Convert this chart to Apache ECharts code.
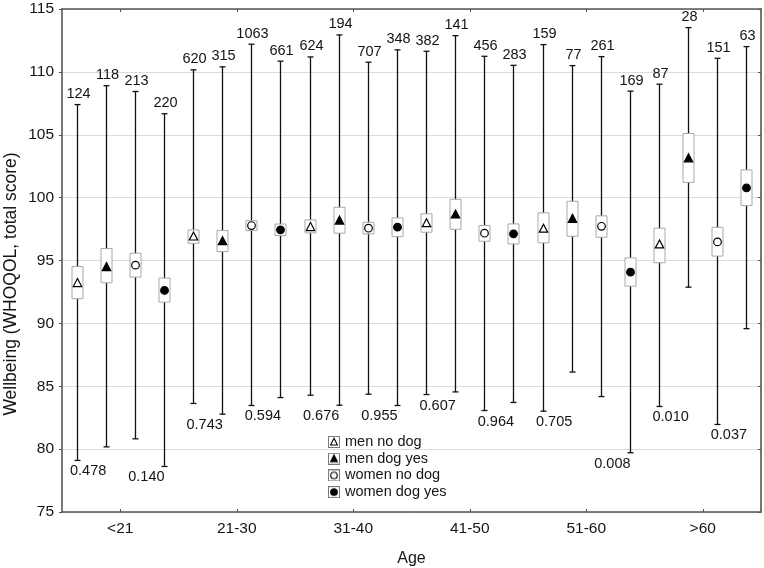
<!DOCTYPE html>
<html>
<head>
<meta charset="utf-8">
<script src="https://cdn.jsdelivr.net/npm/echarts@6/dist/echarts.min.js"></script>
<style>
html,body{margin:0;padding:0;background:#fff;}
#chart{width:764px;height:568px;}
</style>
</head>
<body>
<div id="chart"></div>
<script>
// ---------- DATA ----------
const categories = ['<21', '21-30', '31-40', '41-50', '51-60', '>60'];
const seriesNames = ['men no dog', 'men dog yes', 'women no dog', 'women dog yes'];

// men no dog
const menNoDogMean = [93.2, 96.9, 97.65, 97.96, 97.52, 96.27];
const menNoDogBoxLow = [91.96, 96.37, 97.2, 97.25, 96.4, 94.82];
const menNoDogBoxHigh = [94.52, 97.43, 98.23, 98.71, 98.79, 97.57];
const menNoDogMin = [79.1, 83.63, 84.29, 84.34, 83.02, 83.39];
const menNoDogMax = [107.4, 110.16, 111.19, 111.64, 112.17, 109.02];
const menNoDogN = [124, 620, 624, 382, 159, 87];

// men dog yes
const menDogMean = [94.47, 96.53, 98.17, 98.65, 98.31, 103.12];
const menDogBoxLow = [93.23, 95.71, 97.17, 97.48, 96.93, 101.21];
const menDogBoxHigh = [95.95, 97.38, 99.23, 99.87, 99.71, 105.1];
const menDogMin = [80.18, 82.78, 83.49, 84.55, 86.13, 92.88];
const menDogMax = [108.9, 110.4, 112.94, 112.88, 110.5, 113.52];
const menDogN = [118, 315, 194, 141, 77, 28];

// women no dog
const womenNoDogMean = [94.63, 97.78, 97.57, 97.17, 97.72, 96.48];
const womenNoDogBoxLow = [93.68, 97.38, 97.12, 96.53, 96.85, 95.35];
const womenNoDogBoxHigh = [95.58, 98.17, 98.04, 97.78, 98.55, 97.64];
const womenNoDogMin = [80.82, 83.47, 84.37, 83.07, 84.18, 81.96];
const womenNoDogMax = [108.44, 112.2, 110.77, 111.24, 111.21, 111.08];
const womenNoDogN = [213, 1063, 707, 456, 261, 151];

// women dog yes
const womenDogMean = [92.62, 97.44, 97.65, 97.12, 94.07, 100.77];
const womenDogBoxLow = [91.69, 96.98, 96.9, 96.32, 92.96, 99.37];
const womenDogBoxHigh = [93.6, 97.9, 98.39, 97.91, 95.21, 102.2];
const womenDogMin = [78.62, 84.1, 83.47, 83.71, 79.71, 89.58];
const womenDogMax = [106.67, 110.85, 111.75, 110.52, 108.47, 112.01];
const womenDogN = [220, 661, 348, 283, 169, 63];

// p-values (men pair, women pair)
const pMen = ['0.478', '0.743', '0.676', '0.607', '0.705', '0.010'];
const pWomen = ['0.140', '0.594', '0.955', '0.964', '0.008', '0.037'];

const yTicks = { min: 75, max: 115, step: 5 };
const yTitle = 'Wellbeing (WHOQOL, total score)';
const xTitle = 'Age';

// ---------- BUILD ----------
const groups = [
  [menNoDogMean, menNoDogBoxLow, menNoDogBoxHigh, menNoDogMin, menNoDogMax, menNoDogN],
  [menDogMean, menDogBoxLow, menDogBoxHigh, menDogMin, menDogMax, menDogN],
  [womenNoDogMean, womenNoDogBoxLow, womenNoDogBoxHigh, womenNoDogMin, womenNoDogMax, womenNoDogN],
  [womenDogMean, womenDogBoxLow, womenDogBoxHigh, womenDogMin, womenDogMax, womenDogN]
];
const symbolKinds = [
  { shape: 'triangle', filled: false },
  { shape: 'triangle', filled: true },
  { shape: 'circle', filled: false },
  { shape: 'circle', filled: true }
];
const FONT = '"Liberation Sans", Arial, sans-serif';
const TXT = '#141414';

function makeIcon(kind) {
  const c = document.createElement('canvas');
  c.width = 12; c.height = 12;
  const g = c.getContext('2d');
  g.fillStyle = '#fff'; g.fillRect(0, 0, 12, 12);
  g.strokeStyle = '#7a7a7a'; g.lineWidth = 1; g.strokeRect(0.5, 0.5, 11, 11);
  g.strokeStyle = '#000'; g.lineWidth = 1.1;
  g.beginPath();
  if (kind.shape === 'triangle') {
    g.moveTo(6, 2.3); g.lineTo(2.6, 9); g.lineTo(9.4, 9); g.closePath();
  } else {
    g.arc(6, 6, 3.3, 0, Math.PI * 2);
  }
  g.fillStyle = kind.filled ? '#000' : '#fff';
  g.fill(); g.stroke();
  return c.toDataURL();
}

function boxRenderer(s) {
  const kind = symbolKinds[s];
  return function (params, api) {
    const cat = api.value(0);
    const band = api.size([1, 0])[0];
    const cx = Math.round(api.coord([cat, api.value(1)])[0] + (s - 1.5) * band / 4) + 0.5;
    const yMean = api.coord([cat, api.value(1)])[1];
    const yLow = api.coord([cat, api.value(2)])[1];
    const yHigh = api.coord([cat, api.value(3)])[1];
    const yMin = api.coord([cat, api.value(4)])[1];
    const yMax = api.coord([cat, api.value(5)])[1];
    const n = api.value(6);
    const ws = { stroke: '#111', lineWidth: 1.3 };
    const children = [
      { type: 'line', shape: { x1: cx, y1: yMax, x2: cx, y2: yMin }, style: ws },
      { type: 'line', shape: { x1: cx - 3, y1: yMax, x2: cx + 3, y2: yMax }, style: ws },
      { type: 'line', shape: { x1: cx - 3, y1: yMin, x2: cx + 3, y2: yMin }, style: ws },
      { type: 'rect', shape: { x: cx - 5.5, y: yHigh, width: 11, height: yLow - yHigh },
        style: { fill: '#fff', stroke: '#a8a8a8', lineWidth: 1 } }
    ];
    const ms = { fill: kind.filled ? '#000' : '#fff', stroke: '#000', lineWidth: 1.2 };
    if (kind.shape === 'triangle') {
      children.push({ type: 'polygon', shape: { points: [[cx, yMean - 4.6], [cx - 4.2, yMean + 3.4], [cx + 4.2, yMean + 3.4]] }, style: ms });
    } else {
      children.push({ type: 'circle', shape: { cx: cx, cy: yMean, r: 3.8 }, style: ms });
    }
    children.push({ type: 'text', style: { text: String(n), x: cx + 1, y: yMax - 3, align: 'center', verticalAlign: 'bottom', font: '14.5px ' + FONT, fill: TXT } });
    return { type: 'group', children: children };
  };
}

const series = groups.map(function (g, s) {
  const data = categories.map(function (c, i) {
    return [i, g[0][i], g[1][i], g[2][i], g[3][i], g[4][i], g[5][i]];
  });
  return {
    name: seriesNames[s],
    type: 'custom',
    renderItem: boxRenderer(s),
    encode: { x: 0, y: [1, 2, 3, 4, 5] },
    data: data,
    clip: false,
    z: 3
  };
});

// p-value labels (placed below the lower whisker of each pair)
const pData = [];
categories.forEach(function (c, i) {
  pData.push([i, 0, Math.min(menNoDogMin[i], menDogMin[i]), pMen[i]]);
  pData.push([i, 1, Math.min(womenNoDogMin[i], womenDogMin[i]), pWomen[i]]);
});
series.push({
  name: 'p',
  type: 'custom',
  encode: { x: 0, y: 2 },
  data: pData,
  clip: false,
  z: 4,
  renderItem: function (params, api) {
    const cat = api.value(0);
    const k = api.value(1);
    const band = api.size([1, 0])[0];
    const p = api.coord([cat, api.value(2)]);
    const x = p[0] + (k === 0 ? -1 : 1) * band / 4 - 3;
    return { type: 'text', style: { text: pData[params.dataIndex][3], x: x, y: p[1] + 11, align: 'center', verticalAlign: 'middle', font: '14.5px ' + FONT, fill: TXT } };
  }
});

const axisLineStyle = { color: '#555', width: 1.6 };

const option = {
  backgroundColor: '#fff',
  animation: false,
  textStyle: { fontFamily: FONT },
  grid: { left: 62, right: 3, top: 9, bottom: 56, containLabel: false, outerBoundsMode: 'none' },
  graphic: [{
    type: 'text',
    x: 11,
    y: 284,
    rotation: Math.PI / 2,
    style: { text: yTitle, align: 'center', verticalAlign: 'middle', font: '17.5px ' + FONT, fill: TXT }
  }],
  legend: {
    orient: 'vertical',
    left: 328,
    top: 434,
    padding: 0,
    itemWidth: 12,
    itemHeight: 12,
    itemGap: 0.7,
    textStyle: { fontSize: 14.5, color: TXT, fontFamily: FONT, lineHeight: 16 },
    data: seriesNames.map(function (nm, s) { return { name: nm, icon: 'image://' + makeIcon(symbolKinds[s]) }; }),
    selectedMode: false
  },
  xAxis: [{
    type: 'category',
    data: categories,
    boundaryGap: true,
    axisLine: { lineStyle: axisLineStyle },
    axisTick: { show: true, inside: true, length: 3, alignWithLabel: true, lineStyle: { color: '#555' } },
    axisLabel: { fontSize: 15.5, color: TXT, margin: 9, fontFamily: FONT },
    splitLine: { show: false },
    name: xTitle,
    nameLocation: 'middle',
    nameGap: 39,
    nameTextStyle: { fontSize: 16, color: TXT, fontFamily: FONT }
  }, {
    type: 'category',
    data: categories,
    position: 'top',
    boundaryGap: true,
    axisLine: { lineStyle: axisLineStyle },
    axisTick: { show: true, inside: true, length: 3, alignWithLabel: true, lineStyle: { color: '#555' } },
    axisLabel: { show: false },
    splitLine: { show: false }
  }],
  yAxis: [{
    type: 'value',
    min: yTicks.min,
    max: yTicks.max,
    interval: yTicks.step,
    axisLine: { show: true, lineStyle: axisLineStyle },
    axisTick: { show: true, length: 3, lineStyle: { color: '#555' } },
    axisLabel: { fontSize: 15.5, color: TXT, margin: 8, fontFamily: FONT },
    splitLine: { show: true, lineStyle: { color: '#dcdcdc', width: 1 } }
  }, {
    type: 'value',
    position: 'right',
    min: yTicks.min,
    max: yTicks.max,
    interval: yTicks.step,
    axisLine: { show: true, lineStyle: axisLineStyle },
    axisTick: { show: true, inside: true, length: 3, lineStyle: { color: '#555' } },
    axisLabel: { show: false },
    splitLine: { show: false }
  }],
  series: series
};

const chart = echarts.init(document.getElementById('chart'), null, { renderer: 'canvas' });
chart.setOption(option);
</script>
</body>
</html>
